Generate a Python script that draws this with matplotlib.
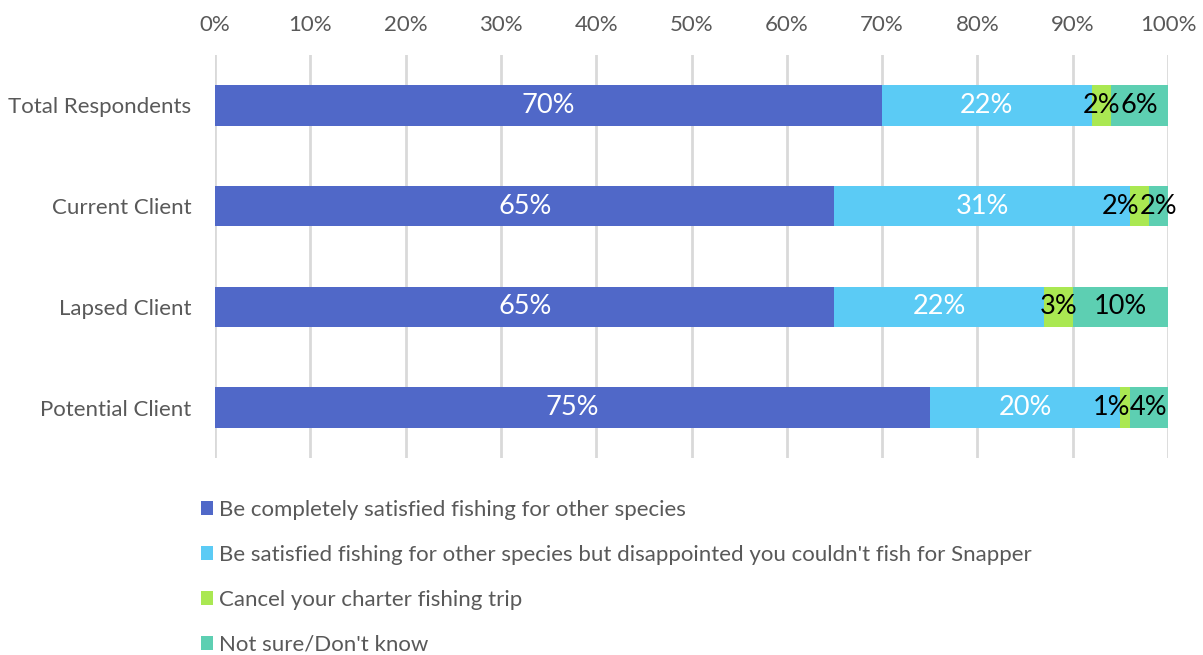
import numpy as np
import matplotlib.pyplot as plt

plt.rcParams['font.family'] = ['Lato', 'DejaVu Sans']

groups = ['Total Respondents', 'Current Client', 'Lapsed Client', 'Potential Client']
series = ['Be completely satisfied fishing for other species',
          "Be satisfied fishing for other species but disappointed you couldn't fish for Snapper",
          'Cancel your charter fishing trip',
          "Not sure/Don't know"]
completely = [70, 65, 65, 75]
disappointed = [22, 31, 22, 20]
cancel = [2, 2, 3, 1]
not_sure = [6, 2, 10, 4]

colors = ['#5068C8', '#5BCBF5', '#AAE852', '#5DCFB2']
text_colors = ['white', 'white', 'black', 'black']
grey = '#595959'

fig = plt.figure(figsize=(12.03, 6.55), dpi=100)
ax = fig.add_axes([215 / 1203, 1 - 458 / 655, (1168 - 215) / 1203, (458 - 55) / 655])

y = np.arange(len(groups))
left = np.zeros(len(groups))
handles = []
labels = []
for vals, col, tcol, name in zip([completely, disappointed, cancel, not_sure],
                                 colors, text_colors, series):
    vals = np.array(vals, dtype=float)
    bars = ax.barh(y, vals, left=left, height=0.4, color=col, label=name, zorder=3)
    handles.append(bars)
    row = []
    for yi, l, v in zip(y, left, vals):
        row.append(ax.text(l + v / 2, yi, f'{v:.0f}%', ha='center', va='center',
                           color=tcol, fontsize=19.5, zorder=4))
    labels.append(row)
    left += vals

ax.set_xlim(0, 100)
ax.set_ylim(len(groups) - 0.5, -0.5)
ax.set_xticks(np.arange(0, 101, 10))
ax.set_xticklabels([f'{t}%' for t in range(0, 101, 10)])
ax.xaxis.tick_top()
ax.set_yticks(y)
ax.set_yticklabels(groups)
ax.tick_params(axis='both', length=0, labelsize=16, colors=grey)
ax.tick_params(axis='x', pad=14.5)
ax.tick_params(axis='y', pad=17)
ax.grid(axis='x', color='#D9D9D9', linewidth=2, zorder=0)
for s in ax.spines.values():
    s.set_visible(False)

# push the small "cancel" labels left when they run into the "not sure" label
fig.canvas.draw()
r = fig.canvas.get_renderer()
inv = ax.transData.inverted()
for t_small, t_next in zip(labels[2], labels[3]):
    b1 = t_small.get_window_extent(r)
    b2 = t_next.get_window_extent(r)
    if b1.x1 > b2.x0:
        shift = inv.transform((b1.x1, 0))[0] - inv.transform((b2.x0, 0))[0]
        x0, y0 = t_small.get_position()
        t_small.set_position((x0 - shift, y0))

fig.legend(handles=handles, labels=series, loc='upper left',
           bbox_to_anchor=(181 / 1203, 1 - 480 / 655), frameon=False,
           fontsize=16, labelcolor=grey, handlelength=0.55, handleheight=0.55,
           handletextpad=0.25, labelspacing=1.12)

fig.savefig('out.png', dpi=100)
